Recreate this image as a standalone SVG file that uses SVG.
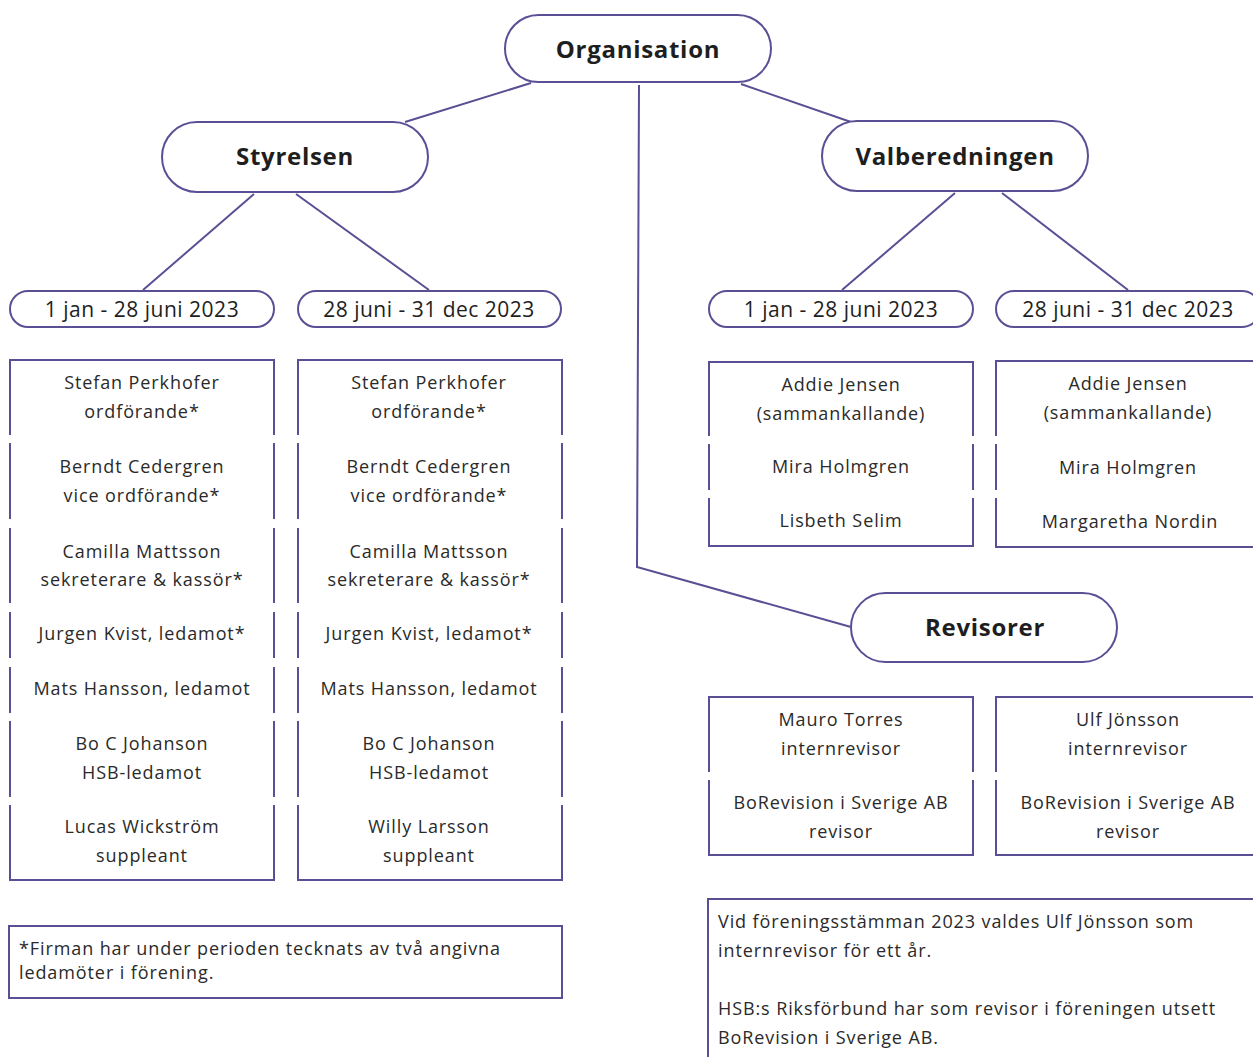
<svg xmlns="http://www.w3.org/2000/svg" width="1253" height="1057" viewBox="0 0 1253 1057">
<style>
.pill{fill:#fff;stroke:#5a4f94;stroke-width:2}
.box{fill:none;stroke:#5a4f94;stroke-width:2}
.con{fill:none;stroke:#5a4f94;stroke-width:2}
.h{font-family:"Open Sans","Noto Sans",sans-serif;font-weight:700;font-size:24px;letter-spacing:0.7px;fill:#1e1e1e;text-anchor:middle;dominant-baseline:central}
.d{font-family:"Open Sans","Noto Sans",sans-serif;font-size:21px;letter-spacing:0.5px;fill:#1e1e1e;text-anchor:middle;dominant-baseline:central}
.t{font-family:"Open Sans","Noto Sans",sans-serif;font-size:18px;letter-spacing:0.9px;fill:#2a2a2a;text-anchor:middle;dominant-baseline:central}
.n{font-family:"Open Sans","Noto Sans",sans-serif;font-size:18px;letter-spacing:0.9px;fill:#2a2a2a;dominant-baseline:central}
</style>
<rect width="1253" height="1057" fill="#fff"/>
<g id="connectors">
<line class="con" x1="531" y1="83" x2="405" y2="122"/>
<line class="con" x1="741" y1="84" x2="851" y2="122"/>
<polyline class="con" points="639,85 637,567 851,627"/>
<line class="con" x1="254" y1="194" x2="143" y2="290"/>
<line class="con" x1="296" y1="194" x2="429" y2="290"/>
<line class="con" x1="955" y1="193" x2="842" y2="290"/>
<line class="con" x1="1002" y1="193" x2="1128" y2="290"/>
</g>
<g id="organisation"><rect class="pill" x="505" y="15" width="266" height="67" rx="33.5"/><text class="h" x="638" y="48">Organisation</text></g>
<g id="styrelsen"><rect class="pill" x="162" y="122" width="266" height="70" rx="35"/><text class="h" x="295" y="155">Styrelsen</text></g>
<g id="valberedningen"><rect class="pill" x="822" y="121" width="266" height="70" rx="35"/><text class="h" x="955" y="155">Valberedningen</text></g>
<g id="revisorer"><rect class="pill" x="851" y="593" width="266" height="69" rx="34.5"/><text class="h" x="985" y="626">Revisorer</text></g>
<g id="styr-period1"><rect class="pill" x="10" y="291" width="264" height="36" rx="18"/><text class="d" x="142" y="309">1 jan - 28 juni 2023</text></g>
<g id="styr-period2"><rect class="pill" x="298" y="291" width="263" height="36" rx="18"/><text class="d" x="429" y="309">28 juni - 31 dec 2023</text></g>
<g id="val-period1"><rect class="pill" x="709" y="291" width="264" height="36" rx="18"/><text class="d" x="841" y="309">1 jan - 28 juni 2023</text></g>
<g id="val-period2"><rect class="pill" x="996" y="291" width="264" height="36" rx="18"/><text class="d" x="1128" y="309">28 juni - 31 dec 2023</text></g>
<g id="styr-members1">
<path class="box" d="M10,435V360H274V435M10,443V519M274,443V519M10,528V603M274,528V603M10,612V658M274,612V658M10,667V713M274,667V713M10,721V797M274,721V797M10,805V880H274V805"/>
<text class="t" x="142" y="382">Stefan Perkhofer</text><text class="t" x="142" y="411">ordförande*</text>
<text class="t" x="142" y="466">Berndt Cedergren</text><text class="t" x="142" y="495">vice ordförande*</text>
<text class="t" x="142" y="551">Camilla Mattsson</text><text class="t" x="142" y="579">sekreterare &amp; kassör*</text>
<text class="t" x="142" y="633">Jurgen Kvist, ledamot*</text>
<text class="t" x="142" y="688">Mats Hansson, ledamot</text>
<text class="t" x="142" y="743">Bo C Johanson</text><text class="t" x="142" y="772">HSB-ledamot</text>
<text class="t" x="142" y="826">Lucas Wickström</text><text class="t" x="142" y="855">suppleant</text>
</g>
<g id="styr-members2">
<path class="box" d="M298,435V360H562V435M298,443V519M562,443V519M298,528V603M562,528V603M298,612V658M562,612V658M298,667V713M562,667V713M298,721V797M562,721V797M298,805V880H562V805"/>
<text class="t" x="429" y="382">Stefan Perkhofer</text><text class="t" x="429" y="411">ordförande*</text>
<text class="t" x="429" y="466">Berndt Cedergren</text><text class="t" x="429" y="495">vice ordförande*</text>
<text class="t" x="429" y="551">Camilla Mattsson</text><text class="t" x="429" y="579">sekreterare &amp; kassör*</text>
<text class="t" x="429" y="633">Jurgen Kvist, ledamot*</text>
<text class="t" x="429" y="688">Mats Hansson, ledamot</text>
<text class="t" x="429" y="743">Bo C Johanson</text><text class="t" x="429" y="772">HSB-ledamot</text>
<text class="t" x="429" y="826">Willy Larsson</text><text class="t" x="429" y="855">suppleant</text>
</g>
<g id="val-members1">
<path class="box" d="M709,436V362H973V436M709,444V490M973,444V490M709,498V546H973V498"/>
<text class="t" x="841" y="384">Addie Jensen</text><text class="t" x="841" y="413">(sammankallande)</text>
<text class="t" x="841" y="466">Mira Holmgren</text>
<text class="t" x="841" y="520">Lisbeth Selim</text>
</g>
<g id="val-members2">
<path class="box" d="M996,436V361H1262M996,444V490M996,498V547H1262"/>
<text class="t" x="1128" y="383">Addie Jensen</text><text class="t" x="1128" y="412">(sammankallande)</text>
<text class="t" x="1128" y="467">Mira Holmgren</text>
<text class="t" x="1130" y="521">Margaretha Nordin</text>
</g>
<g id="rev-members1">
<path class="box" d="M709,772V697H973V772M709,780V855H973V780"/>
<text class="t" x="841" y="719">Mauro Torres</text><text class="t" x="841" y="748">internrevisor</text>
<text class="t" x="841" y="802">BoRevision i Sverige AB</text><text class="t" x="841" y="831">revisor</text>
</g>
<g id="rev-members2">
<path class="box" d="M996,772V697H1262M996,780V855H1262"/>
<text class="t" x="1128" y="719">Ulf Jönsson</text><text class="t" x="1128" y="748">internrevisor</text>
<text class="t" x="1128" y="802">BoRevision i Sverige AB</text><text class="t" x="1128" y="831">revisor</text>
</g>
<g id="footnote">
<rect class="box" x="9" y="926" width="553" height="72"/>
<text class="n" x="19" y="948">*Firman har under perioden tecknats av två angivna</text>
<text class="n" x="19" y="972">ledamöter i förening.</text>
</g>
<g id="rev-note">
<path class="box" d="M708,1060V899H1262"/>
<text class="n" x="718" y="921">Vid föreningsstämman 2023 valdes Ulf Jönsson som</text>
<text class="n" x="718" y="950">internrevisor för ett år.</text>
<text class="n" x="718" y="1008">HSB:s Riksförbund har som revisor i föreningen utsett</text>
<text class="n" x="718" y="1037">BoRevision i Sverige AB.</text>
</g>
</svg>
